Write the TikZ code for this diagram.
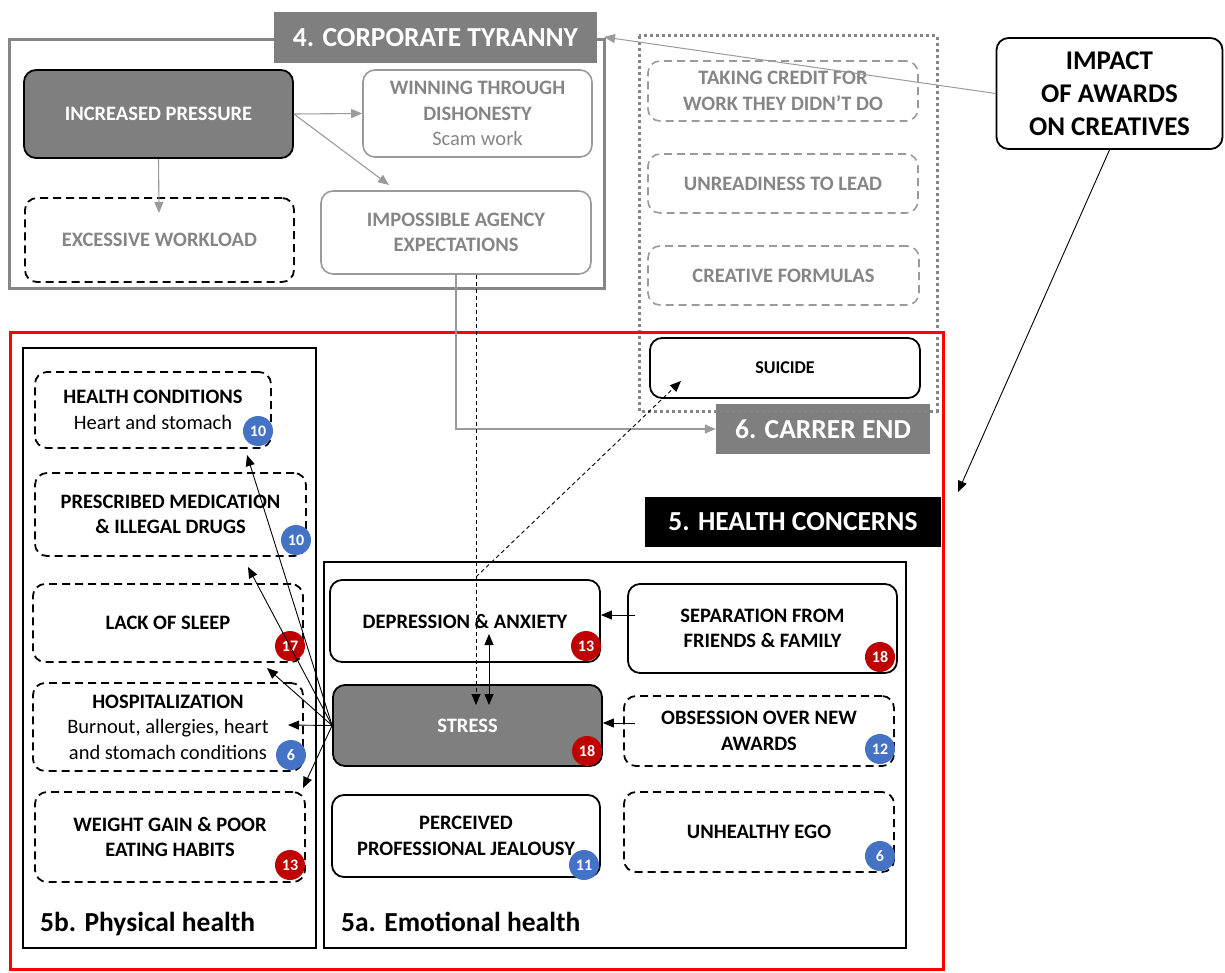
\documentclass[tikz,border=0pt]{standalone}
\usepackage{fontspec}
\setmainfont{Carlito}
\usetikzlibrary{arrows.meta,calc}

\definecolor{darkfill}{HTML}{7F7F7F}
\definecolor{frameGray}{HTML}{858585}
\definecolor{lineGray}{HTML}{9A9A9A}
\definecolor{softText}{HTML}{858585}
\definecolor{badgeBlue}{HTML}{4472C4}
\definecolor{badgeRed}{HTML}{C00000}
\definecolor{alertRed}{HTML}{FF0000}

\newcommand{\boxfont}{\fontsize{20.5}{25.5}\selectfont\bfseries}
\newcommand{\headfont}{\fontsize{27.5}{33}\selectfont\bfseries}
\newcommand{\badgefont}{\fontsize{16}{16}\selectfont\bfseries}
\newcommand{\subline}[1]{{\mdseries #1}}

\tikzset{
  card/.style={rounded corners=12pt, align=center, inner sep=2pt, font=\boxfont},
  solidcard/.style={card, draw=black, line width=1.8pt},
  dashcard/.style={card, draw=black, line width=1.8pt, dash pattern=on 8pt off 5pt},
  greycard/.style={card, draw=lineGray, line width=1.6pt, text=softText},
  greydashcard/.style={card, draw=lineGray, line width=1.6pt, dash pattern=on 8pt off 5pt, text=softText},
  darkcard/.style={card, draw=black, line width=1.8pt, fill=darkfill, text=white},
  banner/.style={inner sep=0pt, font=\headfont, text=white},
  badge/.style={circle, inner sep=0pt, minimum size=30pt, text=white, font=\badgefont},
  bluebadge/.style={badge, fill=badgeBlue},
  redbadge/.style={badge, fill=badgeRed},
  arr/.style={-{Triangle[length=11pt,width=9pt]}, line width=0.9pt},
  greyarr/.style={-{Triangle[length=11pt,width=9pt]}, line width=1.1pt, draw=lineGray},
  section/.style={anchor=base west, inner sep=0pt, font=\headfont},
}

\begin{document}
\begin{tikzpicture}[x=1pt,y=-1pt]
\useasboundingbox (0,0) rectangle (1225,973);

% ---------- 4. Corporate tyranny ----------
\draw[frameGray, line width=3pt] (9,40) rectangle (604,289);
\node[banner, fill=darkfill, minimum width=323pt, minimum height=51pt] (tyranny) at (435.5,37.5) {4. CORPORATE TYRANNY};
\coordinate (tyrCorner) at (604,37);

\node[darkcard, minimum width=269pt, minimum height=88pt] (pressure) at (158.5,114) {INCREASED PRESSURE};
\node[greycard, minimum width=229pt, minimum height=87pt] (dishonesty) at (477.5,113.5) {WINNING THROUGH\\DISHONESTY\\\subline{Scam work}};
\node[dashcard, text=softText, minimum width=269pt, minimum height=84pt] (workload) at (159.5,240) {EXCESSIVE WORKLOAD};
\node[greycard, minimum width=270pt, minimum height=83pt] (expect) at (456,232.5) {IMPOSSIBLE AGENCY\\EXPECTATIONS};

% ---------- 6. Career end column ----------
\node[greydashcard, minimum width=270pt, minimum height=60pt] (credit) at (783,91) {TAKING CREDIT FOR\\WORK THEY DIDN'T DO};
\node[greydashcard, minimum width=270pt, minimum height=59pt] (unready) at (783,183.5) {UNREADINESS TO LEAD};
\node[greydashcard, minimum width=271pt, minimum height=59pt] (formulas) at (783.5,275.5) {CREATIVE FORMULAS};
\node[solidcard, minimum width=270pt, minimum height=60pt, font=\fontsize{18}{22}\selectfont\bfseries] (suicide) at (785,368) {SUICIDE};
\node[banner, fill=darkfill, minimum width=214pt, minimum height=50pt] (careerend) at (823,429) {6. CARRER END};
\draw[frameGray, line width=3pt, dash pattern=on 3pt off 3pt] (639,36) rectangle (937,411);

% ---------- Impact ----------
\node[solidcard, font=\fontsize{27}{33}\selectfont\bfseries, minimum width=226pt, minimum height=111pt] (impact) at (1109.5,93.5) {IMPACT\\OF AWARDS\\ON CREATIVES};

% ---------- 5. Health concerns ----------
\draw[alertRed, line width=3pt] (10,332) rectangle (943,969);
\node[banner, fill=black, minimum width=296pt, minimum height=50pt] (concerns) at (793,522) {5. HEALTH CONCERNS};
\coordinate (concernsEdge) at (958,492);

% 5b. Physical health
\draw[black, line width=1.8pt] (23,348) rectangle (316,948);
\node[section] (physlabel) at (40,931) {5b. Physical health};
\node[dashcard, minimum width=236pt, minimum height=76pt] (conditions) at (153,410) {HEALTH CONDITIONS\\\subline{Heart and stomach}};
\node[dashcard, minimum width=271pt, minimum height=83pt] (drugs) at (170.5,514.5) {PRESCRIBED MEDICATION\\\& ILLEGAL DRUGS};
\node[dashcard, minimum width=270pt, minimum height=78pt] (sleep) at (168,623) {LACK OF SLEEP};
\node[dashcard, minimum width=270pt, minimum height=88pt] (hospital) at (168,727) {HOSPITALIZATION\\\subline{Burnout, allergies, heart}\\\subline{and stomach conditions}};
\node[dashcard, minimum width=270pt, minimum height=90pt] (weight) at (170,837) {WEIGHT GAIN \& POOR\\EATING HABITS};

% 5a. Emotional health
\draw[black, line width=1.8pt] (324,562) rectangle (906,948);
\node[section] (emolabel) at (341,931) {5a. Emotional health};
\node[solidcard, minimum width=270pt, minimum height=82pt] (depression) at (465,621) {DEPRESSION \& ANXIETY};
\node[solidcard, minimum width=269pt, minimum height=89pt] (separation) at (762.5,628.5) {SEPARATION FROM\\FRIENDS \& FAMILY};
\node[darkcard, minimum width=269pt, minimum height=81pt] (stress) at (467.5,725.5) {STRESS};
\node[dashcard, minimum width=270pt, minimum height=70pt] (obsession) at (759,731) {OBSESSION OVER NEW\\AWARDS};
\node[solidcard, minimum width=268pt, minimum height=82pt] (jealousy) at (466,836) {PERCEIVED\\PROFESSIONAL JEALOUSY};
\node[dashcard, minimum width=270pt, minimum height=80pt] (ego) at (759,832) {UNHEALTHY EGO};

% ---------- Mention counts ----------
\node[bluebadge] (bConditions) at (258,431) {10};
\node[bluebadge] (bDrugs) at (296,540) {10};
\node[redbadge]  (bSleep) at (290,646) {17};
\node[bluebadge] (bHospital) at (291,755) {6};
\node[redbadge]  (bWeight) at (290,865) {13};
\node[redbadge]  (bDepression) at (586,646) {13};
\node[redbadge]  (bSeparation) at (880,657) {18};
\node[redbadge]  (bStress) at (587,751) {18};
\node[bluebadge] (bObsession) at (880,749) {12};
\node[bluebadge] (bJealousy) at (584,865) {11};
\node[bluebadge] (bEgo) at (880,856) {6};

% ---------- Connectors ----------
\coordinate (workloadIn) at (159,213);
\coordinate (expectIn) at (389,185);
\draw[greyarr] (pressure.east) -- (dishonesty.west);
\draw[greyarr] (pressure.east) -- (expectIn);
\draw[greyarr] (pressure.south) -- (workloadIn);
\draw[greyarr] (expect.south) |- (careerend.west);
\draw[lineGray, line width=1pt, -{Triangle[length=11pt,width=9pt]}] (impact.west) -- (tyrCorner);
\draw[arr] (impact.south) -- (concernsEdge);

\coordinate (stressTopDash) at (476,705);
\coordinate (stressTopSolid) at (489,705);
\coordinate (depressionIn) at (489,634);
\coordinate (branch) at (476,577);
\coordinate (suicideIn) at (681,381);
\draw[arr, dash pattern=on 4pt off 3pt] ([xshift=20pt]expect.south) -- (stressTopDash);
\draw[arr, dash pattern=on 4pt off 3pt] (branch) -- (suicideIn);
\draw[{Triangle[length=11pt,width=9pt]}-{Triangle[length=11pt,width=9pt]}, line width=0.9pt] (depressionIn) -- (stressTopSolid);
\draw[arr] ([xshift=8pt,yshift=13.5pt]separation.west) -- ([yshift=6pt]depression.east);
\draw[arr] ([xshift=12pt,yshift=8pt]obsession.west) -- ([yshift=2.5pt]stress.east);

\coordinate (conditionsIn) at (247,455);
\coordinate (drugsIn) at (248,567);
\coordinate (sleepIn) at (267,668);
\coordinate (hospitalIn) at (288,725);
\coordinate (weightIn) at (303,788);
\foreach \t in {conditionsIn,drugsIn,sleepIn,hospitalIn,weightIn}
  \draw[arr] (stress.west) -- (\t);
\end{tikzpicture}
\end{document}
